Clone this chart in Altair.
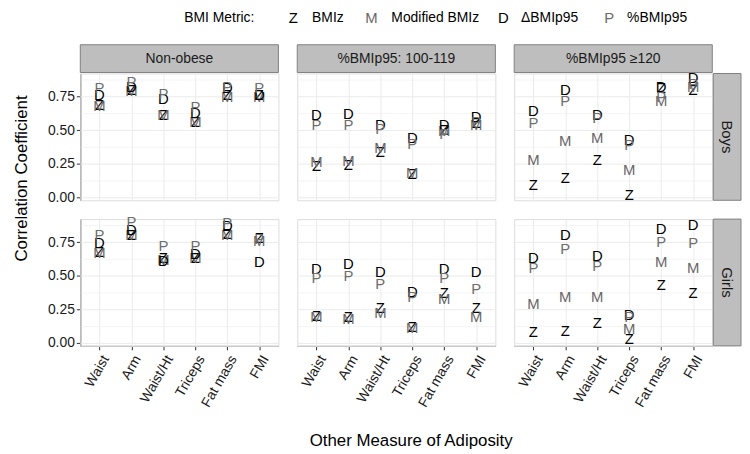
import altair as alt
import pandas as pd

# ---------------- data ----------------
MEASURES = ["Waist", "Arm", "Waist/Ht", "Triceps", "Fat mass", "FMI"]
GROUPS = ["Non-obese", "%BMIp95: 100-119", "%BMIp95 ≥120"]
SEXES = ["Boys", "Girls"]
METRICS = ["Z", "M", "D", "P"]
METRIC_LABELS = ["BMIz", "Modified BMIz", "ΔBMIp95", "%BMIp95"]
METRIC_COLORS = ["#000000", "#666666", "#000000", "#6e6e6e"]

boys_nonobese = {
    "Z": [0.69, 0.80, 0.61, 0.56, 0.76, 0.76],
    "M": [0.68, 0.79, 0.61, 0.56, 0.75, 0.75],
    "D": [0.76, 0.82, 0.73, 0.63, 0.81, 0.76],
    "P": [0.81, 0.86, 0.77, 0.67, 0.82, 0.81],
}
boys_100_119 = {
    "Z": [0.23, 0.24, 0.34, 0.17, 0.50, 0.55],
    "M": [0.26, 0.27, 0.37, 0.18, 0.49, 0.54],
    "D": [0.61, 0.62, 0.54, 0.44, 0.54, 0.60],
    "P": [0.54, 0.54, 0.51, 0.40, 0.47, 0.56],
}
boys_120 = {
    "Z": [0.09, 0.14, 0.28, 0.02, 0.81, 0.80],
    "M": [0.28, 0.42, 0.44, 0.20, 0.72, 0.82],
    "D": [0.64, 0.80, 0.61, 0.43, 0.82, 0.89],
    "P": [0.55, 0.72, 0.59, 0.39, 0.75, 0.84],
}
girls_nonobese = {
    "Z": [0.68, 0.80, 0.63, 0.63, 0.81, 0.78],
    "M": [0.67, 0.80, 0.62, 0.63, 0.80, 0.76],
    "D": [0.74, 0.84, 0.61, 0.66, 0.87, 0.60],
    "P": [0.80, 0.90, 0.72, 0.72, 0.89, 0.77],
}
girls_100_119 = {
    "Z": [0.20, 0.19, 0.26, 0.12, 0.37, 0.26],
    "M": [0.19, 0.18, 0.22, 0.11, 0.33, 0.19],
    "D": [0.55, 0.59, 0.53, 0.38, 0.55, 0.53],
    "P": [0.48, 0.50, 0.44, 0.34, 0.48, 0.40],
}
girls_120 = {
    "Z": [0.08, 0.09, 0.15, 0.03, 0.43, 0.37],
    "M": [0.29, 0.34, 0.34, 0.10, 0.60, 0.56],
    "D": [0.63, 0.80, 0.65, 0.21, 0.85, 0.88],
    "P": [0.56, 0.70, 0.57, 0.19, 0.75, 0.74],
}

PANELS = {
    ("Boys", GROUPS[0]): boys_nonobese,
    ("Boys", GROUPS[1]): boys_100_119,
    ("Boys", GROUPS[2]): boys_120,
    ("Girls", GROUPS[0]): girls_nonobese,
    ("Girls", GROUPS[1]): girls_100_119,
    ("Girls", GROUPS[2]): girls_120,
}

rows = []
for (sex, group), vals in PANELS.items():
    for m in METRICS:
        for meas, v in zip(MEASURES, vals[m]):
            rows.append(dict(kind="point", sex=sex, group=group, measure=meas,
                             metric=m, value=v, label=""))
for g in GROUPS:
    rows.append(dict(kind="colstrip", sex="Boys", group=g, label=g))
for s in SEXES:
    rows.append(dict(kind="rowstrip", sex=s, group=GROUPS[2], label=s))
for m, lab in zip(METRICS, METRIC_LABELS):
    rows.append(dict(kind="legend", sex="Boys", group=GROUPS[1], metric=m, label=lab))
df = pd.DataFrame(rows)

# ---------------- layout constants ----------------
FONT = "Liberation Sans"
W, H = 200, 128
LEG_Y = -56
LEG_TITLE_X = -114
LEG_LETTER_X = [-4, 75, 208, 315]
LEG_LABEL_X = [15, 95, 226, 333]
MINOR = "round(datum.value*8) % 2 == 1"

base = alt.Chart()

pts = base.transform_filter("datum.kind == 'point'").mark_text(
    fontSize=15, font=FONT
).encode(
    x=alt.X("measure:N", sort=MEASURES,
            scale=alt.Scale(type="point", domain=MEASURES, padding=0.6),
            axis=alt.Axis(title=None, labelAngle=300,
                          labelAlign="right", labelBaseline="top",
                          labelFontSize=14, labelColor="#1a1a1a", labelPadding=3,
                          grid=True, gridColor="#ebebeb", tickSize=4,
                          tickColor="#333333", domainColor="#333333")),
    y=alt.Y("value:Q",
            scale=alt.Scale(domain=[-0.022, 0.922], nice=False, zero=False),
            axis=alt.Axis(title=None,
                          values=[0, 0.125, 0.25, 0.375, 0.5, 0.625, 0.75, 0.875],
                          labelExpr="(" + MINOR + ") ? '' : format(datum.value, '.2f')",
                          tickOpacity={"condition": {"test": MINOR, "value": 0}, "value": 1},
                          gridWidth={"condition": {"test": MINOR, "value": 0.5}, "value": 1},
                          labelFontSize=14, labelColor="#1a1a1a", labelPadding=2,
                          grid=True, gridColor="#ebebeb", tickSize=4,
                          tickColor="#333333", domainColor="#333333")),
    text="metric:N",
    color=alt.Color("metric:N", scale=alt.Scale(domain=METRICS, range=METRIC_COLORS),
                    legend=None),
)

col_rect = base.transform_filter("datum.kind == 'colstrip'").mark_rect(
    fill="#bebebe", stroke="#808080", strokeWidth=1
).encode(x=alt.value(0), x2=alt.value(W), y=alt.value(-29), y2=alt.value(-1))

col_text = base.transform_filter("datum.kind == 'colstrip'").mark_text(
    fontSize=14, font=FONT, color="#1a1a1a", baseline="middle", align="center"
).encode(x=alt.value(W / 2), y=alt.value(-15), text="label:N")

row_rect = base.transform_filter("datum.kind == 'rowstrip'").mark_rect(
    fill="#bebebe", stroke="#808080", strokeWidth=1
).encode(x=alt.value(W + 1), x2=alt.value(W + 29), y=alt.value(0), y2=alt.value(H))

row_text = base.transform_filter("datum.kind == 'rowstrip'").mark_text(
    fontSize=15, font=FONT, color="#1a1a1a", angle=90, baseline="middle", align="center"
).encode(x=alt.value(W + 15), y=alt.value(H / 2), text="label:N")

legend_layers = [
    base.transform_filter("datum.kind == 'legend' && datum.metric == 'Z'").mark_text(
        fontSize=14, font=FONT, color="#000000", align="left", baseline="middle"
    ).encode(x=alt.value(LEG_TITLE_X), y=alt.value(LEG_Y), text=alt.value("BMI Metric:"))
]
for m, c, lx, tx in zip(METRICS, METRIC_COLORS, LEG_LETTER_X, LEG_LABEL_X):
    flt = f"datum.kind == 'legend' && datum.metric == '{m}'"
    legend_layers.append(
        base.transform_filter(flt).mark_text(
            fontSize=15, font=FONT, align="center", baseline="middle", color=c
        ).encode(x=alt.value(lx), y=alt.value(LEG_Y), text="metric:N")
    )
    legend_layers.append(
        base.transform_filter(flt).mark_text(
            fontSize=14, font=FONT, color="#000000", align="left", baseline="middle"
        ).encode(x=alt.value(tx), y=alt.value(LEG_Y), text="label:N")
    )

layered = alt.layer(pts, col_rect, col_text, row_rect, row_text, *legend_layers,
                    data=df).properties(width=W, height=H)

chart = layered.facet(
    row=alt.Row("sex:N", sort=SEXES, title="Correlation Coefficient",
                header=alt.Header(labels=False, titleFontSize=17, titleFontWeight="normal",
                                  titleColor="#000000", titlePadding=6)),
    column=alt.Column("group:N", sort=GROUPS, title="Other Measure of Adiposity",
                      header=alt.Header(labels=False, titleOrient="bottom", titleFontSize=17,
                                        titleFontWeight="normal", titleColor="#000000",
                                        titlePadding=14)),
    spacing={"row": 19, "column": 19},
    bounds="flush",
).properties(
    padding={"left": 4, "top": 0, "right": 0, "bottom": 0}
).configure_view(
    stroke="#8c8c8c", strokeWidth=1
).configure(font=FONT, background="white")

chart.save("out.html", embed_options={"renderer": "svg", "actions": False})
